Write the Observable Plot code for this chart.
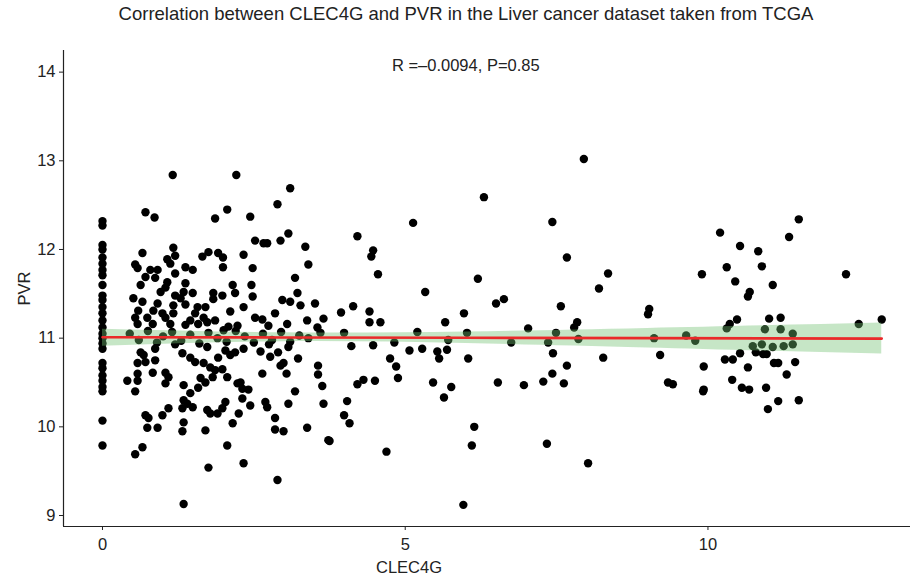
<!DOCTYPE html>
<html>
<head>
<meta charset="utf-8">
<script src="https://cdn.jsdelivr.net/npm/d3@7"></script>
<script src="https://cdn.jsdelivr.net/npm/@observablehq/plot@0.6"></script>
<style>
  html, body { margin: 0; padding: 0; background: #fff; }
  body { width: 910px; height: 581px; overflow: hidden; font-family: "Liberation Sans", Arial, sans-serif; }
  #title { height: 28px; line-height: 28px; text-align: center; font-size: 18.5px; color: #222; padding-left: 22px; box-sizing: border-box; }
  #chart svg { display: block; }
</style>
</head>
<body>
<div id="title"></div>
<div id="chart"></div>
<script>
const titleText = "Correlation between CLEC4G and PVR in the Liver cancer dataset taken from TCGA";
const xLabel = "CLEC4G";
const yLabel = "PVR";
const statLabel = "R =\u20130.0094, P=0.85";
const statPos = {x: 6.0, y: 14};
const xTicks = [0, 5, 10];
const yTicks = [9, 10, 11, 12, 13, 14];
const xDomain = [-0.644, 13.345];
const yDomain = [8.876, 14.244];

// CLEC4G values (x)
const clec4g = [
  0,0,0,0,0,0,0,0,0,0,0,0,0,0,0,0,0,0,0,0,0,0,0,0,0,0,0,
  1.16,0.71,0.86,1.17,0.66,1.2,1.65,1.07,0.54,1.12,1.37,0.58,0.79,0.91,1.49,1.2,0.71,0.87,1.07,1.37,
  0.63,1.04,1.34,0.96,1.49,1.2,0.51,1.29,0.66,0.91,1.37,1.57,1.17,0.59,0.84,0.99,1.17,1.53,0.54,0.74,
  1.04,1.45,1.67,0.58,0.83,1.12,1.37,1.58,1.73,
  0.63,0.68,0.87,1.32,1.45,1.53,1.67,0.58,0.71,0.87,0.58,0.83,1.04,1.09,0.41,0.58,1.04,1.62,1.7,0.54,
  1.34,1.58,1.45,1.34,1.4,1.49,1.32,1.73,1.09,0.99,0.71,0.76,1.34,0.74,0.91,1.32,1.7,0.66,0.54,1.75,1.34,
  2.21,3.1,2.89,2.06,1.86,2.44,3.07,2.52,2.66,2.72,2.94,3.35,1.75,1.91,1.99,2.33,3.4,1.99,2.48,3.18,
  2.15,2.46,1.83,1.98,2.19,2.48,3.22,1.83,2.97,3.1,3.27,3.51,2.33,1.7,2.11,2.85,2.52,2.64,1.86,3.38,
  3.65,2.74,3.05,2.08,2.23,3.55,
  1.73,1.91,2.03,2.11,2.19,2.33,2.61,2.77,2.9,3.07,3.23,1.78,1.86,1.98,1.82,2.06,2.64,2.94,2.99,3.04,
  3.56,3.56,3.63,2.23,2.28,2.31,2.41,3.18,2.31,2.03,2.44,2.69,2.72,3.07,3.65,1.78,1.9,1.98,2.25,2.85,
  2.15,2.85,2.99,3.38,3.73,2.06,2.33,2.89,
  0.45,0.6,0.75,0.9,1.0,1.15,1.3,1.45,1.6,1.75,1.9,2.05,2.2,2.35,2.5,2.65,2.8,2.95,3.1,3.25,3.4,3.6,1.2,2.0,2.75,
  5.13,4.21,4.47,4.44,4.55,5.33,3.94,4.14,4.41,4.41,4.59,5.66,5.97,3.99,5.2,6.02,
  4.11,4.47,4.82,5.07,5.28,5.53,5.69,5.56,4.75,4.85,4.88,4.31,4.21,4.5,5.46,5.76,5.64,4.04,3.99,4.08,
  3.75,4.69,5.96,6.04,5.71,
  7.95,6.3,7.43,7.67,8.35,8.2,6.2,6.5,6.63,7.57,7.84,7.79,7.03,7.49,
  7.44,8.27,7.67,7.43,6.53,6.96,7.28,7.62,6.14,6.1,7.34,8.02,6.75,7.36,7.86,
  11.5,10.2,11.34,10.53,10.83,10.31,10.89,9.9,12.28,10.45,11.07,10.69,10.66,9.03,9.01,10.48,11.01,11.2,10.36,12.87,
  10.31,10.94,11.2,11.4,9.11,9.64,9.79,10.74,10.89,11.07,11.25,11.4,12.49,
  9.21,9.93,10.28,10.41,10.53,10.79,10.91,10.97,10.66,11.09,11.16,11.44,9.34,9.42,10.4,11.3,9.92,9.93,
  10.56,10.68,10.96,11.16,11.5,10.99
];

// PVR values (y)
const pvr = [
  12.32,12.27,12.05,12.0,11.91,11.84,11.77,11.71,11.6,11.48,11.43,11.35,11.28,11.2,11.12,11.05,11.0,10.94,10.88,10.72,
  10.66,10.58,10.52,10.45,10.4,10.07,9.79,
  12.84,12.42,12.36,12.02,11.96,11.93,11.92,11.89,11.83,11.84,11.8,11.79,11.77,11.77,11.77,11.73,11.69,11.68,11.63,11.62,
  11.6,11.57,11.52,11.52,11.51,11.48,11.45,11.45,11.41,11.39,11.38,11.35,11.37,11.31,11.31,11.28,11.28,11.28,11.23,11.23,
  11.23,11.2,11.23,11.16,11.16,11.16,11.15,11.16,11.18,
  10.84,10.81,10.88,10.83,10.78,10.73,10.72,10.72,10.73,10.75,10.6,10.61,10.61,10.56,10.52,10.52,10.49,10.55,10.5,10.4,
  10.47,10.44,10.38,10.3,10.26,10.22,10.21,10.19,10.21,10.13,10.13,10.1,10.05,9.99,9.99,9.95,9.96,9.77,9.69,9.54,9.13,
  12.84,12.69,12.51,12.45,12.35,12.37,12.18,12.1,12.07,12.07,12.1,12.03,11.97,11.96,11.91,11.94,11.83,11.8,11.79,11.68,
  11.6,11.6,11.51,11.48,11.51,11.47,11.51,11.44,11.43,11.41,11.37,11.39,11.35,11.35,11.3,11.28,11.23,11.21,11.2,11.2,
  11.22,11.14,11.16,11.13,11.14,11.12,
  10.9,10.78,10.86,10.81,10.84,10.88,10.85,10.79,10.84,10.9,10.77,10.67,10.64,10.65,10.56,10.56,10.6,10.69,10.72,10.6,
  10.69,10.59,10.46,10.49,10.5,10.43,10.42,10.4,10.32,10.28,10.24,10.28,10.22,10.26,10.26,10.15,10.15,10.21,10.15,10.1,
  10.04,9.97,9.95,9.99,9.85,9.79,9.59,9.4,
  11.05,10.98,11.08,10.95,11.02,11.07,10.97,11.04,10.94,11.06,11.0,10.96,11.08,11.02,10.95,11.05,10.98,11.07,10.96,11.03,11.0,11.06,10.93,11.09,10.93,
  12.3,12.15,11.99,11.92,11.72,11.52,11.29,11.36,11.3,11.18,11.18,11.18,11.28,11.06,11.07,11.06,
  10.91,10.92,10.95,10.86,10.88,10.85,10.87,10.77,10.77,10.68,10.55,10.53,10.48,10.52,10.5,10.45,10.33,10.29,10.13,10.04,
  9.84,9.72,9.12,10.77,10.98,
  13.02,12.59,12.31,11.91,11.73,11.56,11.67,11.39,11.44,11.36,11.18,11.12,11.11,11.06,
  10.83,10.78,10.69,10.6,10.5,10.47,10.51,10.49,10.0,9.79,9.81,9.59,10.95,10.95,10.99,
  12.34,12.19,12.14,12.04,11.98,11.8,11.81,11.72,11.72,11.64,11.6,11.52,11.47,11.33,11.27,11.21,11.22,11.23,11.16,11.21,
  11.11,11.1,11.1,11.05,11.0,11.03,10.97,10.91,10.93,10.9,10.91,10.93,11.16,
  10.81,10.68,10.76,10.76,10.83,10.84,10.82,10.82,10.67,10.72,10.72,10.73,10.5,10.48,10.53,10.59,10.4,10.42,
  10.44,10.42,10.44,10.29,10.3,10.2
];

// Fitted line and 95% confidence band
const fitX  = [0, 3, 6, 9, 12.87];
const fitY  = [11.01, 11.008, 11.004, 11.0, 10.995];
const fitLo = [10.91, 10.96, 10.94, 10.89, 10.82];
const fitHi = [11.10, 11.06, 11.07, 11.11, 11.17];

const points = clec4g.map((x, i) => ({x, y: pvr[i]}));
const fit = fitX.map((x, i) => ({x, y: fitY[i], lo: fitLo[i], hi: fitHi[i]}));

document.getElementById("title").textContent = titleText;

const chart = Plot.plot({
  width: 910,
  height: 553,
  marginLeft: 63,
  marginRight: 0,
  marginTop: 22,
  marginBottom: 55,
  style: {fontFamily: "Liberation Sans, Arial, sans-serif", fontSize: "16.5px", color: "#222", background: "white"},
  x: {domain: xDomain},
  y: {domain: yDomain},
  marks: [
    Plot.dot(points, {x: "x", y: "y", r: 4.2, fill: "black", stroke: "none"}),
    Plot.areaY(fit, {x: "x", y1: "lo", y2: "hi", fill: "#70c070", fillOpacity: 0.4, curve: "natural"}),
    Plot.line(fit, {x: "x", y: "y", stroke: "#ea2a2a", strokeWidth: 2.6}),
    Plot.ruleX([xDomain[0]], {stroke: "#222", strokeWidth: 1.2}),
    Plot.ruleY([yDomain[0]], {stroke: "#222", strokeWidth: 1.2}),
    Plot.axisX({ticks: xTicks, tickFormat: "d", tickSize: 4, tickPadding: 8, label: null, fontSize: 16.5, stroke: "#222"}),
    Plot.axisY({ticks: yTicks, tickFormat: "d", tickSize: 4, tickPadding: 4, label: yLabel, labelAnchor: "center", labelOffset: 45, labelArrow: "none", fontSize: 16.5, stroke: "#222"}),
    Plot.text([xLabel], {frameAnchor: "bottom", dx: -78, dy: 46, fontSize: 16.5, fill: "#222"}),
    Plot.text([statLabel], {x: statPos.x, y: statPos.y, dy: -6, fontSize: 16.5, fill: "#222"})
  ]
});
document.getElementById("chart").appendChild(chart);
</script>
</body>
</html>
